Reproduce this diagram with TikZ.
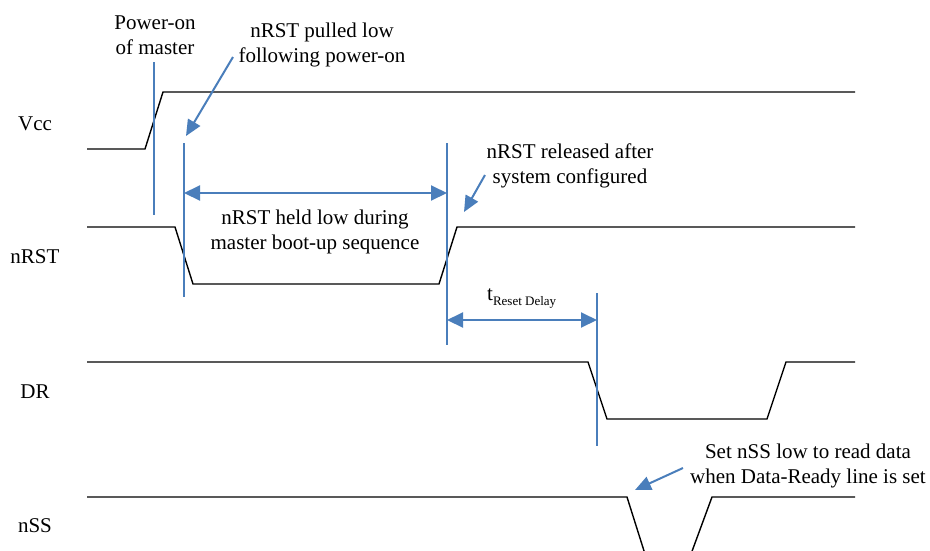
\documentclass[tikz,border=0pt]{standalone}
\usepackage{fontspec}
\setmainfont{Liberation Serif}
\usetikzlibrary{arrows.meta}
\definecolor{markblue}{RGB}{74,126,187}

\begin{document}
\begin{tikzpicture}[x=1pt, y=-1pt,
        txt/.style={font=\fontsize{21}{25}\selectfont, align=center, inner sep=0pt},
        sig/.style={black, line width=1.4pt, line join=miter},
        marker/.style={markblue, line width=2pt},
        callout/.style={markblue, line width=2pt, -{Triangle[length=16pt,width=14pt]}},
        span/.style={markblue, line width=2pt, {Triangle[length=16pt,width=15pt]}-{Triangle[length=16pt,width=15pt]}}]
    \useasboundingbox (0,0) rectangle (930,550);

    % signal names
    \node[txt] (vcc)  at (35,124) {Vcc};
    \node[txt] (nrst) at (35,257) {nRST};
    \node[txt] (dr)   at (35,392) {DR};
    \node[txt] (nss)  at (35,526) {nSS};

    % waveforms
    \draw[sig] (87,149) -- (145,149) -- (163,92) -- (855,92);
    \draw[sig] (87,227) -- (175,227) -- (193,284) -- (439,284) -- (457,227) -- (855,227);
    \draw[sig] (87,362) -- (588,362) -- (607,419) -- (767,419) -- (786,362) -- (855,362);
    \draw[sig] (87,497) -- (627,497) -- (645,554);
    \draw[sig] (691,554) -- (712,497) -- (855,497);

    % event markers
    \coordinate (poweron top) at (154,62);  \coordinate (poweron bot) at (154,215);
    \coordinate (pull top)    at (184,143); \coordinate (pull bot)    at (184,297);
    \coordinate (rel top)     at (447,143); \coordinate (rel bot)     at (447,345);
    \coordinate (dr top)      at (597,293); \coordinate (dr bot)      at (597,446);
    \draw[marker] (poweron top) -- (poweron bot);
    \draw[marker] (pull top) -- (pull bot);
    \draw[marker] (rel top) -- (rel bot);
    \draw[marker] (dr top) -- (dr bot);

    % notes
    \node[txt] (poweron)  at (155,35)  {Power-on\\of master};
    \node[txt] (pulled)   at (322,45)  {nRST pulled low\\following power-on};
    \node[txt] (held)     at (315,232) {nRST held low during\\master boot-up sequence};
    \node[txt] (released) at (570,166) {nRST released after\\system configured};
    \node[txt, anchor=base west] (tdelay) at (487,300)
        {t\raisebox{-5pt}{\fontsize{13}{15}\selectfont Reset Delay}};
    \node[txt] (setnss)   at (808,466) {Set nSS low to read data\\when Data-Ready line is set};

    \coordinate (pulled tail) at (233,57);   \coordinate (pulled tip) at (186,136);
    \coordinate (rel tail)    at (485,175);  \coordinate (rel tip)    at (464,212);
    \coordinate (nss tail)    at (683,468);  \coordinate (nss tip)    at (635,490);
    \draw[callout] (pulled tail) -- (pulled tip);
    \draw[callout] (rel tail) -- (rel tip);
    \draw[callout] (nss tail) -- (nss tip);

    \draw[span] (pull top |- 0,193) -- (rel top |- 0,193);
    \draw[span] (rel top |- 0,320) -- (dr top |- 0,320);
\end{tikzpicture}
\end{document}
